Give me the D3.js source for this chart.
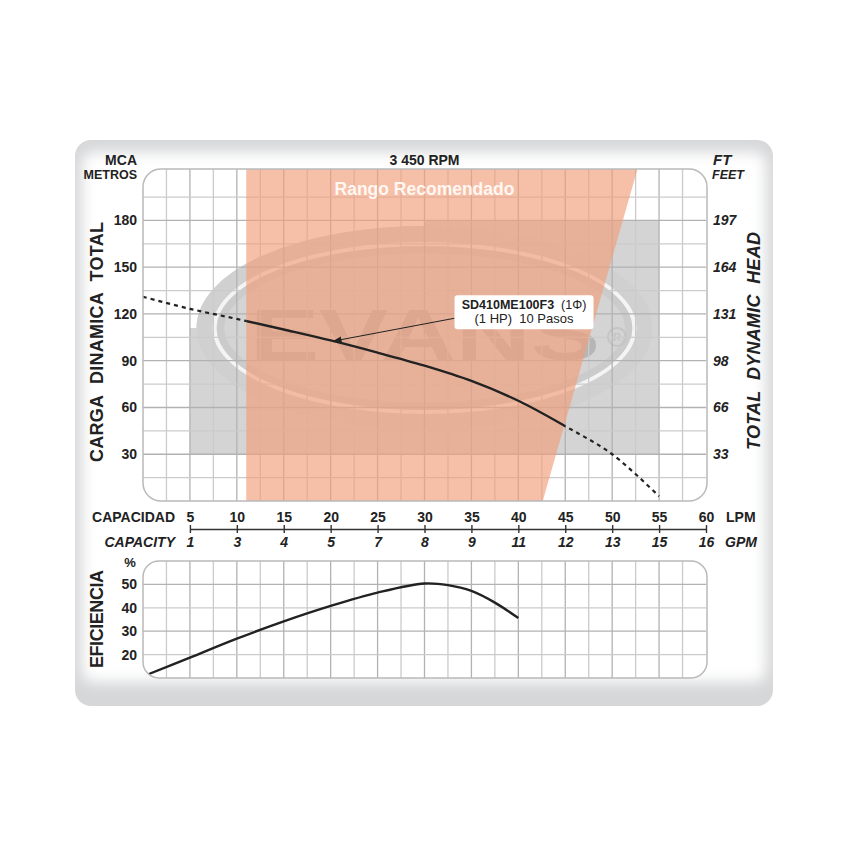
<!DOCTYPE html>
<html>
<head>
<meta charset="utf-8">
<script src="https://cdn.jsdelivr.net/npm/d3@7"></script>
<style>
  body { margin: 0; background: #fff; }
  svg text { font-family: "Liberation Sans", Arial, sans-serif; }
</style>
</head>
<body>
<div class="chart"></div>
<script>
// --- data ---
var lpmTicks = [5, 10, 15, 20, 25, 30, 35, 40, 45, 50, 55, 60];
var gpmLabels = ["1", "3", "4", "5", "7", "8", "9", "11", "12", "13", "15", "16"];
var headTicks = [30, 60, 90, 120, 150, 180];
var feetLabels = ["33", "66", "98", "131", "164", "197"];
var effTicks = [20, 30, 40, 50];

// head curve (LPM, metres); solid between 11 and 45 LPM
var headLpm = [0, 5, 10, 15, 20, 25, 30, 35, 40, 45, 50, 55];
var headM = [131, 123.3, 116.8, 110, 103, 95.2, 86.8, 77, 64.3, 48, 30, 3];
var solidRange = [11, 45];

// efficiency curve (LPM, %)
var effLpm = [0.5, 5, 10, 15, 20, 25, 30, 32.5, 35, 37.5, 40];
var effPct = [11.5, 18.7, 26.8, 34.2, 40.8, 46.5, 50.4, 49.7, 47.2, 42.2, 35.6];

// recommended range: left edge, top-right and bottom-right LPM
var rangoLpm = [11, 52.7, 42.6];
// label arrow target on the curve
var arrowAt = [20.3, 102.6];

var svgWidth = 858, svgHeight = 858;

var svg = d3.select(".chart")
    .append("svg")
    .attr("width", svgWidth)
    .attr("height", svgHeight);

var defs = svg.append("defs");

// scales
var x = d3.scaleLinear().domain([0, 60]).range([143, 706]);
var y = d3.scaleLinear().domain([0, 213]).range([501, 169]);
var ye = d3.scaleLinear().domain([10, 60]).range([678, 561]);

// --- card background ---
defs.append("filter").attr("id", "soft")
    .attr("x", "-10%").attr("y", "-10%").attr("width", "120%").attr("height", "120%")
    .append("feGaussianBlur").attr("stdDeviation", 7);

defs.append("clipPath").attr("id", "cardClip")
    .append("rect")
    .attr("x", 75).attr("y", 140).attr("width", 698).attr("height", 566).attr("rx", 16);

var card = svg.append("g").attr("clip-path", "url(#cardClip)");
card.append("rect")
    .attr("x", 75).attr("y", 140).attr("width", 698).attr("height", 566)
    .attr("fill", "#d6d7d9");
card.append("rect")
    .attr("x", 82).attr("y", 152).attr("width", 684).attr("height", 530)
    .attr("rx", 12)
    .attr("fill", "#ffffff")
    .attr("filter", "url(#soft)");

// --- head plot ---
var plotW = x(60) - x(0) + 1, plotH = y(0) - y(213);
defs.append("clipPath").attr("id", "plotClip")
    .append("rect")
    .attr("x", x(0)).attr("y", y(213)).attr("width", plotW).attr("height", plotH).attr("rx", 18);

var plot = svg.append("g").attr("clip-path", "url(#plotClip)");
plot.append("rect")
    .attr("x", x(0)).attr("y", y(213)).attr("width", plotW).attr("height", plotH)
    .attr("fill", "#fff");

// watermark (EVANS logo)
var wm = plot.append("g");
var ecx = x(30), ecy = 328, erx = 228, ery = 102;
wm.append("path")
    .attr("d", "M" + x(5) + "," + y(30) +
        "L" + x(5) + "," + ecy +
        "L" + (ecx - erx) + "," + ecy +
        "A" + erx + "," + ery + " 0 0 1 " + ecx + "," + (ecy - ery) +
        "L" + ecx + "," + y(180) +
        "L" + x(55) + "," + y(180) +
        "L" + x(55) + "," + y(30) + "Z")
    .attr("fill", "#d4d4d4");
wm.append("ellipse")
    .attr("cx", ecx).attr("cy", ecy).attr("rx", erx - 8).attr("ry", ery - 8)
    .attr("fill", "none").attr("stroke", "#d0d0d0").attr("stroke-width", 16);
wm.append("ellipse")
    .attr("cx", ecx).attr("cy", ecy).attr("rx", erx - 18).attr("ry", ery - 18)
    .attr("fill", "none").attr("stroke", "#f4f4f4").attr("stroke-width", 4);
wm.append("ellipse")
    .attr("cx", ecx).attr("cy", ecy).attr("rx", erx - 24).attr("ry", ery - 24)
    .attr("fill", "none").attr("stroke", "#cbcbcb").attr("stroke-width", 7);
wm.append("text")
    .attr("x", 250).attr("y", 360)
    .attr("textLength", 350).attr("lengthAdjust", "spacingAndGlyphs")
    .style("font-size", "72px").style("font-weight", "bold")
    .attr("fill", "#b6b6b6")
    .text("EVANS");
wm.append("circle")
    .attr("cx", 617).attr("cy", 337).attr("r", 9)
    .attr("fill", "none").attr("stroke", "#c4c4c4").attr("stroke-width", 2);
wm.append("text")
    .attr("x", 617).attr("y", 341).attr("text-anchor", "middle")
    .style("font-size", "11px").style("font-weight", "bold")
    .attr("fill", "#c4c4c4").text("R");

// grid
function drawGrid(g, ys, vals, top, bottom) {
    d3.range(2.5, 60, 2.5).forEach(function(v) {
        g.append("line")
            .attr("x1", x(v)).attr("x2", x(v))
            .attr("y1", top).attr("y2", bottom)
            .attr("stroke", v % 5 === 0 ? "#b2b2b2" : "#cbcbcb")
            .attr("stroke-width", 1.3);
    });
    vals.forEach(function(v, i) {
        g.append("line")
            .attr("x1", x(0)).attr("x2", x(60))
            .attr("y1", ys(v)).attr("y2", ys(v))
            .attr("stroke", i % 2 === 1 ? "#b2b2b2" : "#cbcbcb")
            .attr("stroke-width", 1.3);
    });
}
drawGrid(plot, y, d3.range(15, 200, 15), y(213), y(0));

// recommended range
plot.append("path")
    .attr("d", "M" + x(rangoLpm[0]) + "," + y(213) +
        "L" + x(rangoLpm[1]) + "," + y(213) +
        "L" + x(rangoLpm[2]) + "," + y(0) +
        "L" + x(rangoLpm[0]) + "," + y(0) + "Z")
    .attr("fill", "#f29e7a")
    .attr("fill-opacity", 0.66);

plot.append("text")
    .attr("x", x(30)).attr("y", 195)
    .attr("text-anchor", "middle")
    .style("font-size", "17.5px").style("font-weight", "bold")
    .attr("fill", "#fff7f2")
    .text("Rango Recomendado");

// head curve: one smooth path, clipped into dashed and solid parts
var headData = headLpm.map(function(d, i) { return {q: d, h: headM[i]}; });
var headPath = d3.line()
    .x(function(d) { return x(d.q); })
    .y(function(d) { return y(d.h); })
    .curve(d3.curveCatmullRom.alpha(0.5))(headData);

defs.append("clipPath").attr("id", "solidClip")
    .append("rect")
    .attr("x", x(solidRange[0])).attr("y", 0)
    .attr("width", x(solidRange[1]) - x(solidRange[0])).attr("height", svgHeight);
var dashClip = defs.append("clipPath").attr("id", "dashClip");
dashClip.append("rect")
    .attr("x", 0).attr("y", 0).attr("width", x(solidRange[0])).attr("height", svgHeight);
dashClip.append("rect")
    .attr("x", x(solidRange[1])).attr("y", 0).attr("width", svgWidth).attr("height", svgHeight);

plot.append("path")
    .attr("d", headPath)
    .attr("clip-path", "url(#dashClip)")
    .attr("fill", "none")
    .attr("stroke", "#222")
    .attr("stroke-width", 2.2)
    .attr("stroke-dasharray", "4,4");
plot.append("path")
    .attr("d", headPath)
    .attr("clip-path", "url(#solidClip)")
    .attr("fill", "none")
    .attr("stroke", "#222")
    .attr("stroke-width", 2.4);

svg.append("rect")
    .attr("x", x(0)).attr("y", y(213)).attr("width", plotW).attr("height", plotH).attr("rx", 18)
    .attr("fill", "none").attr("stroke", "#b9b9b9").attr("stroke-width", 1.5);

// model label with arrow
defs.append("marker").attr("id", "arrow")
    .attr("viewBox", "0 0 10 10").attr("refX", 9).attr("refY", 5)
    .attr("markerWidth", 9).attr("markerHeight", 9).attr("orient", "auto")
    .append("path").attr("d", "M0,1.5L10,5L0,8.5Z").attr("fill", "#222");

var boxX = x(33.2), boxY = y(132), boxW = 139, boxH = 34;
svg.append("line")
    .attr("x1", boxX).attr("y1", boxY + 23)
    .attr("x2", x(arrowAt[0])).attr("y2", y(arrowAt[1]))
    .attr("stroke", "#222").attr("stroke-width", 1)
    .attr("marker-end", "url(#arrow)");
svg.append("rect")
    .attr("x", boxX).attr("y", boxY).attr("width", boxW).attr("height", boxH).attr("rx", 3)
    .attr("fill", "#fff");
var lbl = svg.append("text")
    .attr("x", boxX + boxW / 2).attr("y", boxY + 14)
    .attr("text-anchor", "middle")
    .style("font-size", "12.5px").attr("fill", "#222");
lbl.append("tspan").style("font-weight", "bold").text("SD410ME100F3");
lbl.append("tspan").text("\u00a0\u00a0(1\u03a6)");
svg.append("text")
    .attr("x", boxX + boxW / 2).attr("y", boxY + 28)
    .attr("text-anchor", "middle")
    .style("font-size", "13px").attr("fill", "#222")
    .text("(1 HP)\u00a0\u00a010 Pasos");

// --- efficiency plot ---
var effH = ye(10) - ye(60);
defs.append("clipPath").attr("id", "effClip")
    .append("rect")
    .attr("x", x(0)).attr("y", ye(60)).attr("width", plotW).attr("height", effH).attr("rx", 16);
var eplot = svg.append("g").attr("clip-path", "url(#effClip)");
eplot.append("rect")
    .attr("x", x(0)).attr("y", ye(60)).attr("width", plotW).attr("height", effH)
    .attr("fill", "#fff");
drawGrid(eplot, ye, effTicks, ye(60), ye(10));

var effData = effLpm.map(function(d, i) { return {q: d, e: effPct[i]}; });
eplot.append("path")
    .attr("d", d3.line()
        .x(function(d) { return x(d.q); })
        .y(function(d) { return ye(d.e); })
        .curve(d3.curveCatmullRom.alpha(0.5))(effData))
    .attr("fill", "none")
    .attr("stroke", "#222")
    .attr("stroke-width", 2.4);

svg.append("rect")
    .attr("x", x(0)).attr("y", ye(60)).attr("width", plotW).attr("height", effH).attr("rx", 16)
    .attr("fill", "none").attr("stroke", "#b9b9b9").attr("stroke-width", 1.5);

// --- axes ---
function styleAxis(g, italic) {
    g.attr("font-family", null).attr("font-size", null);
    g.selectAll("text")
        .style("font-size", "14px")
        .style("font-weight", "bold")
        .style("font-style", italic ? "italic" : "normal")
        .attr("fill", "#222");
    g.selectAll("line, path").attr("stroke", "#333").attr("stroke-width", 1.4);
}

var xa = x.copy().domain([5, 60]).range([x(5), x(60)]);
svg.append("g")
    .attr("transform", "translate(0,529)")
    .call(d3.axisTop(xa).tickValues(lpmTicks).tickSize(4).tickSizeOuter(0).tickPadding(3))
    .call(styleAxis, false);
svg.append("g")
    .attr("transform", "translate(0,529)")
    .call(d3.axisBottom(xa).tickValues(lpmTicks).tickSize(4).tickSizeOuter(0).tickPadding(4)
        .tickFormat(function(d, i) { return gpmLabels[i]; }))
    .call(styleAxis, true)
    .call(function(g) { g.select(".domain").remove(); });

svg.append("g")
    .attr("transform", "translate(" + x(0) + ",0)")
    .call(d3.axisLeft(y).tickValues(headTicks).tickSize(0).tickPadding(6))
    .call(styleAxis, false)
    .call(function(g) { g.select(".domain").remove(); });

svg.append("g")
    .attr("transform", "translate(" + (x(60) + 1) + ",0)")
    .call(d3.axisRight(y).tickValues(headTicks).tickSize(0).tickPadding(6)
        .tickFormat(function(d, i) { return feetLabels[i]; }))
    .call(styleAxis, true)
    .call(function(g) { g.select(".domain").remove(); });

svg.append("g")
    .attr("transform", "translate(" + x(0) + ",0)")
    .call(d3.axisLeft(ye).tickValues(effTicks).tickSize(0).tickPadding(6))
    .call(styleAxis, false)
    .call(function(g) { g.select(".domain").remove(); });

// --- titles ---
function label(tx, ty, str, size, italic, anchor) {
    return svg.append("text")
        .attr("x", tx).attr("y", ty)
        .attr("text-anchor", anchor || "start")
        .style("font-size", size + "px")
        .style("font-weight", "bold")
        .style("font-style", italic ? "italic" : "normal")
        .attr("fill", "#222")
        .text(str);
}
label(137, 165, "MCA", 14, false, "end");
label(137, 179, "METROS", 12.5, false, "end");
label(x(30), 165, "3 450 RPM", 14, false, "middle");
label(713, 165, "FT", 15, true);
label(712, 179, "FEET", 12.5, true);
label(175, 522, "CAPACIDAD", 14, false, "end");
label(175, 547, "CAPACITY", 14, true, "end");
label(726, 522, "LPM", 14, false);
label(725, 547, "GPM", 14, true);
label(130, 567, "%", 13, false, "middle");

label(0, 0, "CARGA\u00a0\u00a0DINAMICA\u00a0\u00a0TOTAL", 18, false, "middle")
    .attr("textLength", 240)
    .attr("transform", "translate(103,342) rotate(-90)");
label(0, 0, "TOTAL\u00a0\u00a0DYNAMIC\u00a0\u00a0HEAD", 18, true, "middle")
    .attr("textLength", 218)
    .attr("transform", "translate(760,341) rotate(-90)");
label(0, 0, "EFICIENCIA", 18, false, "middle")
    .attr("textLength", 98)
    .attr("transform", "translate(103,619) rotate(-90)");
</script>
</body>
</html>
